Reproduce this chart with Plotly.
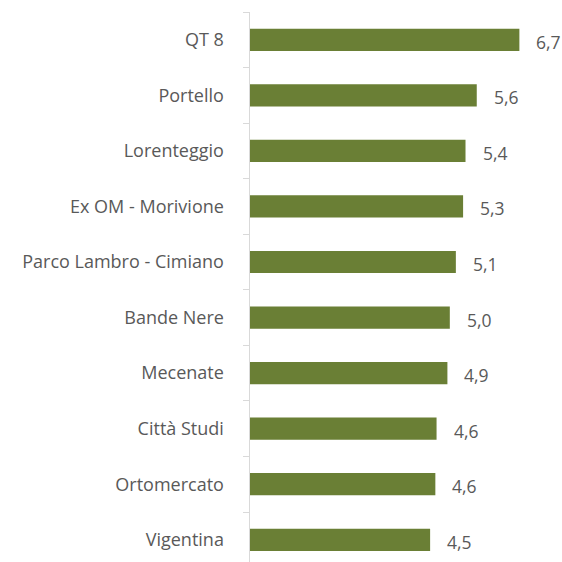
import plotly.graph_objects as go

categories = ["QT 8", "Portello", "Lorenteggio", "Ex OM - Morivione", "Parco Lambro - Cimiano",
              "Bande Nere", "Mecenate", "Città Studi", "Ortomercato", "Vigentina"]
values = [6.70, 5.64, 5.36, 5.30, 5.12, 4.97, 4.91, 4.64, 4.61, 4.48]
labels = [f"{v:.1f}".replace(".", ",") for v in values]

bar_color = "#6a7f35"
text_color = "#595959"
font_family = "Open Sans, Noto Sans, sans-serif"

fig = go.Figure(go.Bar(
    x=values, y=categories, orientation="h",
    marker=dict(color=bar_color, line=dict(width=0)),
    hoverinfo="skip",
))

for c, v, t in zip(categories, values, labels):
    fig.add_annotation(x=v, y=c, text=t, showarrow=False, xanchor="left",
                       xshift=15, yshift=-2,
                       font=dict(size=17.5, color=text_color, family=font_family))

fig.update_layout(
    width=562, height=562,
    margin=dict(l=250, r=0, t=12, b=0, autoexpand=False),
    paper_bgcolor="white", plot_bgcolor="white",
    bargap=0.6,
    showlegend=False,
    font=dict(family=font_family, size=18, color=text_color),
)
fig.update_xaxes(range=[0, 7.76], visible=False, showgrid=False, zeroline=False)
fig.update_yaxes(
    type="category", range=[9.40, -0.5], automargin=False,
    showline=True, linecolor="#d9d9d9", linewidth=1.5,
    ticks="outside", tickson="boundaries", ticklen=6, tickcolor="#d9d9d9",
    ticklabelstandoff=21, showgrid=False,
    tickfont=dict(size=18, color=text_color, family=font_family),
)

fig.write_html(
    "out.html",
    config={"displayModeBar": False, "staticPlot": True},
    post_script="document.body.style.margin='0';document.documentElement.style.overflow='hidden';",
)
